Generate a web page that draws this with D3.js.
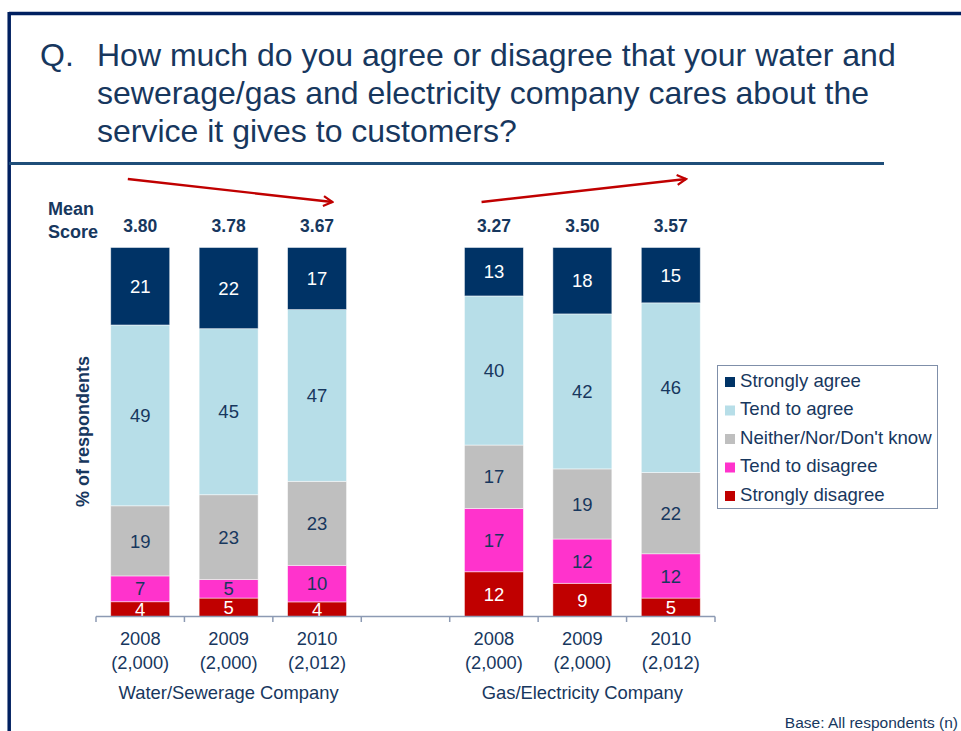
<!DOCTYPE html>
<html>
<head>
<meta charset="utf-8">
<script src="https://cdn.jsdelivr.net/npm/d3@7"></script>
<style>
  html, body { margin: 0; padding: 0; background: #ffffff; }
  svg { display: block; }
  text { font-family: "Liberation Sans", Arial, Helvetica, sans-serif; }
</style>
</head>
<body>
<svg id="chart" width="961" height="731"></svg>
<script>
// ---- data ----
const groups = ["Water/Sewerage Company", "Gas/Electricity Company"];
const years = ["2008", "2009", "2010"];
const bases = ["(2,000)", "(2,000)", "(2,012)"];
const waterMean = [3.80, 3.78, 3.67];
const gasMean = [3.27, 3.50, 3.57];

const seriesNames = ["Strongly agree", "Tend to agree", "Neither/Nor/Don't know", "Tend to disagree", "Strongly disagree"];
// values per bar: water 2008, 2009, 2010, gas 2008, 2009, 2010
const stronglyAgree    = [21, 22, 17, 13, 18, 15];
const tendToAgree      = [49, 45, 47, 40, 42, 46];
const neither          = [19, 23, 23, 17, 19, 22];
const tendToDisagree   = [7, 5, 10, 17, 12, 12];
const stronglyDisagree = [4, 5, 4, 12, 9, 5];

const seriesColors = ["#003366", "#B7DEE8", "#BFBFBF", "#FF33CC", "#C00000"];
const labelColors  = ["#ffffff", "#17375E", "#17375E", "#17375E", "#ffffff"];

const navy = "#17375E";

// ---- build bar rows ----
const bars = [];
groups.forEach((g, gi) => {
  years.forEach((y, yi) => {
    const i = gi * 3 + yi;
    bars.push({
      key: g + "|" + y,
      group: g, year: y, base: bases[yi],
      mean: gi === 0 ? waterMean[yi] : gasMean[yi],
      "Strongly agree": stronglyAgree[i],
      "Tend to agree": tendToAgree[i],
      "Neither/Nor/Don't know": neither[i],
      "Tend to disagree": tendToDisagree[i],
      "Strongly disagree": stronglyDisagree[i]
    });
  });
});
const gapKey = "gap";
const slotKeys = [...bars.slice(0, 3).map(d => d.key), gapKey, ...bars.slice(3).map(d => d.key)];

const svg = d3.select("#chart");

// ---- frame ----
svg.append("line").attr("x1", 9).attr("x2", 961).attr("y1", 13.5).attr("y2", 13.5)
  .attr("stroke", "#002060").attr("stroke-width", 3.5);
svg.append("line").attr("x1", 9.2).attr("x2", 9.2).attr("y1", 12).attr("y2", 731)
  .attr("stroke", "#002060").attr("stroke-width", 3.5);
svg.append("line").attr("x1", 9).attr("x2", 884).attr("y1", 163.5).attr("y2", 163.5)
  .attr("stroke", "#1F4E79").attr("stroke-width", 3);

// ---- title ----
const titleLines = [
  "How much do you agree or disagree that your water and",
  "sewerage/gas and electricity company cares about the",
  "service it gives to customers?"
];
svg.append("text").attr("x", 40).attr("y", 66).attr("fill", navy)
  .style("font-size", "32px").text("Q.");
titleLines.forEach((t, i) => {
  svg.append("text").attr("x", 97).attr("y", 66 + i * 38).attr("fill", navy)
    .style("font-size", "32px").text(t);
});

// ---- scales ----
const x = d3.scaleBand().domain(slotKeys).range([96, 715])
  .paddingInner(0.333).paddingOuter(0.1665);
const y = d3.scaleLinear().domain([0, 1]).range([616.5, 247.5]);

const stackKeys = seriesNames.slice().reverse(); // bottom: Strongly disagree
const stack = d3.stack().keys(stackKeys).offset(d3.stackOffsetExpand);
const stacked = stack(bars);

const bw = x.bandwidth();

// ---- bars ----
const layers = svg.append("g").selectAll("g").data(stacked).join("g")
  .attr("fill", d => seriesColors[seriesNames.indexOf(d.key)]);
layers.selectAll("rect").data(d => d).join("rect")
  .attr("x", d => x(d.data.key))
  .attr("width", bw)
  .attr("y", d => y(d[1]))
  .attr("height", d => y(d[0]) - y(d[1]))
  .attr("stroke", "rgba(255,255,255,0.6)")
  .attr("stroke-width", 0.8);

// ---- segment labels ----
stacked.forEach(layer => {
  const si = seriesNames.indexOf(layer.key);
  svg.append("g").selectAll("text").data(layer).join("text")
    .attr("x", d => x(d.data.key) + bw / 2)
    .attr("y", d => (y(d[0]) + y(d[1])) / 2)
    .attr("dy", "0.36em")
    .attr("text-anchor", "middle")
    .attr("fill", labelColors[si])
    .style("font-size", "18.5px")
    .text(d => d.data[layer.key]);
});

// ---- mean scores ----
svg.append("text").attr("x", 48).attr("y", 215).attr("fill", navy)
  .style("font-size", "18px").style("font-weight", "bold").text("Mean");
svg.append("text").attr("x", 48).attr("y", 238).attr("fill", navy)
  .style("font-size", "18px").style("font-weight", "bold").text("Score");
svg.append("g").selectAll("text").data(bars).join("text")
  .attr("x", d => x(d.key) + bw / 2)
  .attr("y", 231.5)
  .attr("text-anchor", "middle")
  .attr("fill", navy)
  .style("font-size", "17.5px").style("font-weight", "bold")
  .text(d => d3.format(".2f")(d.mean));

// ---- trend arrows ----
const defs = svg.append("defs");
defs.append("marker").attr("id", "arrowHead")
  .attr("viewBox", "0 0 12 12").attr("refX", 10).attr("refY", 6)
  .attr("markerWidth", 12).attr("markerHeight", 12)
  .attr("markerUnits", "userSpaceOnUse").attr("orient", "auto")
  .append("path").attr("d", "M1,1 L10,6 L1,11")
  .attr("fill", "none").attr("stroke", "#C00000").attr("stroke-width", 2.2);

const arrowPairs = [
  [bars[0], bars[2], -68.5, -45.5],
  [bars[3], bars[5], -45.5, -68.5]
];
arrowPairs.forEach(([a, b, dy1, dy2]) => {
  svg.append("line")
    .attr("x1", x(a.key) + bw * 0.29).attr("y1", y(1) + dy1)
    .attr("x2", x(b.key) + bw * 0.76).attr("y2", y(1) + dy2)
    .attr("stroke", "#C00000").attr("stroke-width", 2.4)
    .attr("marker-end", "url(#arrowHead)");
});

// ---- x axis ----
const axisColor = "#8C9AB3";
const step = x.step();
const axisG = svg.append("g");
axisG.append("line").attr("x1", x.range()[0]).attr("x2", x.range()[1])
  .attr("y1", 616.5).attr("y2", 616.5).attr("stroke", axisColor).attr("stroke-width", 1.5);
const boundaries = d3.range(slotKeys.length + 1).map(i => x.range()[0] + i * step);
axisG.selectAll("line.tick").data(boundaries).join("line").attr("class", "tick")
  .attr("x1", d => d).attr("x2", d => d)
  .attr("y1", 616.5).attr("y2", 622)
  .attr("stroke", axisColor).attr("stroke-width", 1.5);

const tickLabels = axisG.selectAll("g.lab").data(bars).join("g").attr("class", "lab");
tickLabels.append("text")
  .attr("x", d => x(d.key) + bw / 2).attr("y", 645)
  .attr("text-anchor", "middle").attr("fill", navy).style("font-size", "18.3px")
  .text(d => d.year);
tickLabels.append("text")
  .attr("x", d => x(d.key) + bw / 2).attr("y", 669)
  .attr("text-anchor", "middle").attr("fill", navy).style("font-size", "18.3px")
  .text(d => d.base);

// group names centred under the middle bar of each group
groups.forEach((g, gi) => {
  const mid = bars[gi * 3 + 1];
  svg.append("text")
    .attr("x", x(mid.key) + bw / 2).attr("y", 699)
    .attr("text-anchor", "middle").attr("fill", navy).style("font-size", "18.4px")
    .text(g);
});

// ---- y axis title ----
svg.append("text")
  .attr("transform", "translate(89,431.5) rotate(-90)")
  .attr("text-anchor", "middle").attr("fill", navy)
  .style("font-size", "18px").style("font-weight", "bold")
  .text("% of respondents");

// ---- legend ----
const legend = svg.append("g");
legend.append("rect").attr("x", 717.5).attr("y", 365.5).attr("width", 220).attr("height", 143)
  .attr("fill", "none").attr("stroke", "#7F8FA9").attr("stroke-width", 1);
seriesNames.forEach((s, i) => {
  const by = 386.5 + i * 28.5;
  legend.append("rect").attr("x", 725).attr("y", by - 9.5).attr("width", 10).attr("height", 10)
    .attr("fill", seriesColors[i]);
  legend.append("text").attr("x", 740).attr("y", by)
    .attr("fill", navy).style("font-size", "18.6px").text(s);
});

// ---- base note ----
svg.append("text").attr("x", 958).attr("y", 728).attr("text-anchor", "end")
  .attr("fill", navy).style("font-size", "15.5px").text("Base: All respondents (n)");
</script>
</body>
</html>
